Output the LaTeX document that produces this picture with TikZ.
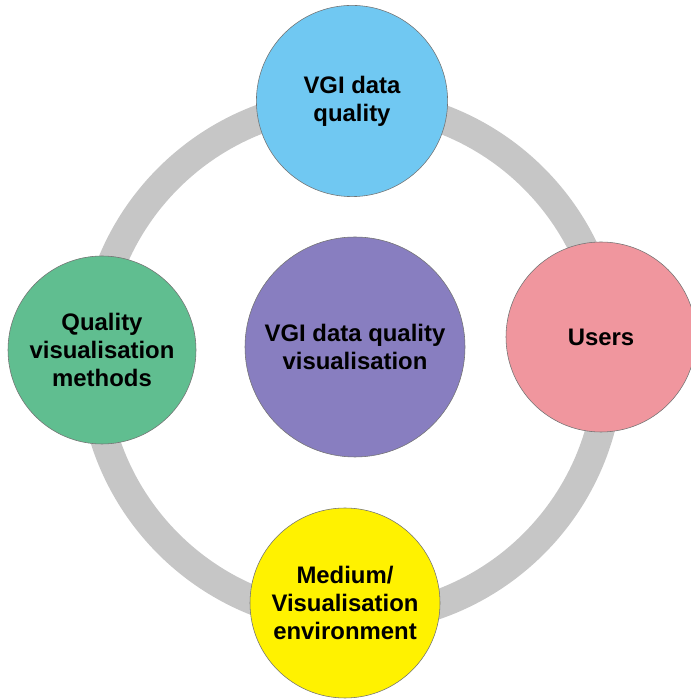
\documentclass[tikz,border=0pt]{standalone}
\usepackage{fontspec}
\setmainfont{Liberation Sans}
\definecolor{ringgray}{RGB}{198,198,198}
\definecolor{qblue}{RGB}{112,200,242}
\definecolor{qgreen}{RGB}{96,190,144}
\definecolor{qpink}{RGB}{240,150,158}
\definecolor{qyellow}{RGB}{255,242,0}
\definecolor{qpurple}{RGB}{136,126,192}
\tikzset{
  topic/.style={circle,draw=black!55,line width=0.4pt,inner sep=0pt,
    align=center,font=\fontsize{17}{20}\selectfont\bfseries},
}
\begin{document}
\begin{tikzpicture}[line cap=round,line join=round]
  \useasboundingbox (0,0) rectangle (17.275,17.5);
  \coordinate (O) at (8.775,8.475);
  % grey ring behind the topics
  \draw[ringgray,line width=0.725cm] (O) circle[radius=6.46];
  \node[topic,fill=qblue,minimum size=4.78cm] (quality) at (8.80,14.975) {VGI data\\quality};
  \node[topic,fill=qgreen,minimum size=4.70cm] (methods) at (2.55,8.75) {Quality\\visualisation\\methods};
  \node[topic,fill=qpink,minimum size=4.75cm] (users) at (15.025,9.075) {Users};
  \node[topic,fill=qyellow,minimum size=4.75cm] (medium) at (8.625,2.425) {Medium/\\Visualisation\\environment};
  \node[topic,fill=qpurple,minimum size=5.50cm] (centre) at (8.875,8.825) {VGI data quality\\visualisation};
\end{tikzpicture}
\end{document}
